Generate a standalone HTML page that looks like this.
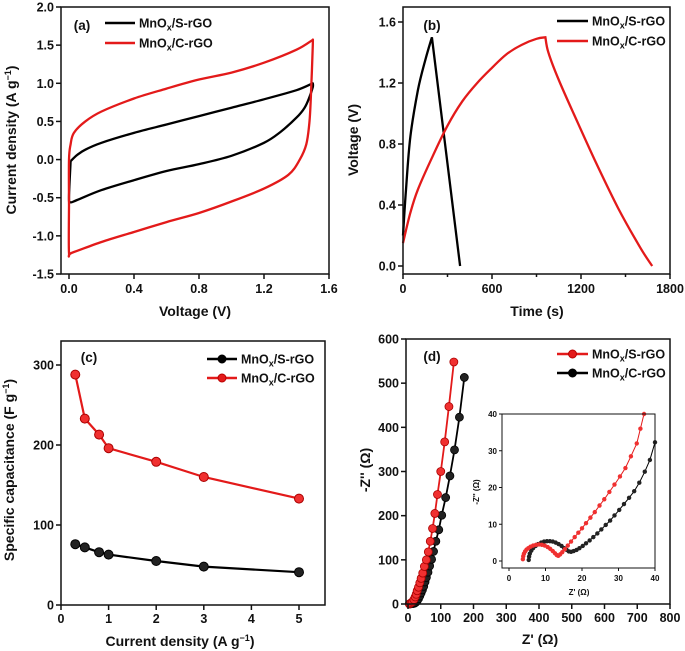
<!DOCTYPE html>
<html><head><meta charset="utf-8"><style>
html,body{margin:0;padding:0;background:#fff}
svg{display:block}
text{font-family:"Liberation Sans",Arial,sans-serif;font-weight:bold;fill:#111}
</style></head><body>
<svg id="fig" width="685" height="651" viewBox="0 0 685 651" xmlns="http://www.w3.org/2000/svg"></svg>
<script>
// ---- Panel (a) CV data ----
const cvS_V = [0.01,0.05,0.1,0.2,0.4,0.6,0.8,1.0,1.2,1.4,1.5,1.5,1.48,1.45,1.4,1.3,1.2,1.0,0.8,0.6,0.4,0.2,0.05,0.01,0.0,0.01];
const cvS_I = [-0.02,0.06,0.13,0.22,0.35,0.46,0.57,0.68,0.79,0.91,1.0,0.95,0.82,0.68,0.55,0.36,0.22,0.05,-0.06,-0.15,-0.27,-0.4,-0.53,-0.56,-0.5,-0.02];
const cvC_V = [0.0,0.0,0.01,0.03,0.1,0.2,0.4,0.6,0.8,1.0,1.2,1.4,1.5,1.5,1.49,1.48,1.46,1.42,1.35,1.2,1.0,0.8,0.6,0.4,0.2,0.02,0.0,0.0];
const cvC_I = [-0.6,0.0,0.2,0.35,0.5,0.63,0.8,0.93,1.05,1.14,1.27,1.44,1.57,1.5,0.9,0.5,0.2,0.0,-0.2,-0.38,-0.55,-0.7,-0.82,-0.95,-1.08,-1.22,-1.22,-0.6];
// ---- Panel (b) GCD data ----
const gcdS_t = [0,20,50,100,150,195,385];
const gcdS_v = [0.2,0.5,0.85,1.15,1.35,1.5,0.0];
const gcdC_t = [0,50,100,200,300,400,500,600,700,800,900,960,980,1050,1150,1300,1450,1600,1680];
const gcdC_v = [0.15,0.35,0.5,0.72,0.92,1.08,1.2,1.3,1.39,1.45,1.49,1.5,1.4,1.22,1.0,0.68,0.38,0.12,0.0];
// ---- Panel (c) rate data ----
const rateX = [0.3,0.5,0.8,1,2,3,5];
const rateS = [76,72,66,63,55,48,41];
const rateC = [288,233,213,196,179,160,133];
// ---- Panel (d) EIS data ----
const eisS_x = [4,6,10,14,18,22,25,28,32,36,40,45,50,56,62,68,75,82,90,100,112,125,140];
const eisS_y = [0,1,3,5,10,16,22,30,38,48,58,70,85,100,118,142,171,205,248,300,367,447,548];
const eisC_x = [6,10,16,20,24,28,32,36,40,44,48,52,56,61,66,72,78,85,94,103,115,128,142,157,172];
const eisC_y = [0,1,1,2,4,7,12,18,25,32,40,50,60,72,86,101,119,142,168,201,241,290,349,423,513];
const insS_x = [3.8,3.9,4.1,4.4,4.8,5.3,5.9,6.6,7.4,8.2,9.0,9.8,10.6,11.3,12.0,12.6,13.1,13.5,14.0,14.6,15.3,16.1,17.0,18.0,19.0,20.0,21.1,22.3,23.5,24.8,26.1,27.5,28.9,30.4,31.9,33.4,35.0,36.0,37.0];
const insS_y = [0.5,1.3,2.0,2.6,3.1,3.5,3.9,4.2,4.4,4.5,4.4,4.2,3.8,3.3,2.7,2.1,1.6,1.4,1.8,2.4,3.2,4.2,5.3,6.5,7.7,8.9,10.3,11.8,13.3,15.1,16.8,18.8,20.8,23.0,25.3,28.5,32.0,36.0,40.0];
const insC_x = [5.4,5.5,5.7,6.1,6.6,7.3,8.0,8.8,9.6,10.4,11.2,12.0,12.8,13.6,14.4,15.1,15.8,16.4,17.0,17.7,18.5,19.3,20.2,21.1,22.1,23.1,24.2,25.3,26.5,27.7,28.9,30.2,31.5,32.9,34.3,35.7,37.2,38.6,40];
const insC_y = [0.3,1.2,2.0,2.8,3.5,4.1,4.6,5.0,5.3,5.4,5.4,5.3,5.0,4.6,4.1,3.5,3.0,2.6,2.5,2.7,3.0,3.5,4.1,4.8,5.6,6.5,7.5,8.6,9.8,11.0,12.4,13.9,15.5,17.2,19.0,21.3,24.3,27.5,32.3];
// tick labels
const aXT = ["0.0","0.4","0.8","1.2","1.6"], aYT = ["-1.5","-1.0","-0.5","0.0","0.5","1.0","1.5","2.0"];
const bXT = ["0","600","1200","1800"], bYT = ["0.0","0.4","0.8","1.2","1.6"];
const cXT = ["0","1","2","3","4","5"], cYT = ["0","100","200","300"];
const dXT = ["0","100","200","300","400","500","600","700","800"], dYT = ["0","100","200","300","400","500","600"];
const iXT = ["0","10","20","30","40"], iYT = ["0","10","20","30","40"];

const NS="http://www.w3.org/2000/svg", fig=document.getElementById('fig');
function mk(tag,attrs,parent){const e=document.createElementNS(NS,tag);for(const k in attrs)e.setAttribute(k,attrs[k]);(parent||fig).appendChild(e);return e;}
function lin(d0,d1,r0,r1){return v=>r0+(v-d0)*(r1-r0)/(d1-d0);}
function txt(x,y,s,size,anchor,parent,rot){const t=mk('text',{x:x,y:y,'font-size':size,'text-anchor':anchor||'middle'},parent);if(rot)t.setAttribute('transform','rotate(-90 '+x+' '+y+')');t.innerHTML=s;return t;}
function path(xs,ys,sx,sy){return xs.map((v,i)=>(i?'L':'M')+sx(v).toFixed(1)+' '+sy(ys[i]).toFixed(1)).join(' ');}
// Catmull-Rom smoothed path over index range [i0,i1]
function smooth(xs,ys,sx,sy,i0,i1){
  const P=[];for(let i=i0;i<=i1;i++)P.push([sx(xs[i]),sy(ys[i])]);
  let d='M'+P[0][0].toFixed(1)+' '+P[0][1].toFixed(1);
  for(let i=0;i<P.length-1;i++){const p0=P[Math.max(0,i-1)],p1=P[i],p2=P[i+1],p3=P[Math.min(P.length-1,i+2)];
    const c1=[p1[0]+(p2[0]-p0[0])/6,p1[1]+(p2[1]-p0[1])/6],c2=[p2[0]-(p3[0]-p1[0])/6,p2[1]-(p3[1]-p1[1])/6];
    d+=' C'+c1[0].toFixed(1)+' '+c1[1].toFixed(1)+' '+c2[0].toFixed(1)+' '+c2[1].toFixed(1)+' '+p2[0].toFixed(1)+' '+p2[1].toFixed(1);}
  return d;}
function frame(g,l,t,r,b,w){const f=mk('rect',{x:l,y:t,width:r-l,height:b-t,fill:'none',stroke:'#111','stroke-width':w||1.5},g);}
function xticks(g,labs,sx,b,len,fs,dy){labs.forEach(s=>{const v=parseFloat(s),x=sx(v);mk('line',{x1:x,y1:b,x2:x,y2:b+len,stroke:'#111','stroke-width':1.5},g);const t=txt(x,b+dy,s,fs,'middle',g);});}
function yticks(g,labs,sy,l,len,fs){labs.forEach(s=>{const v=parseFloat(s),y=sy(v);mk('line',{x1:l,y1:y,x2:l-len,y2:y,stroke:'#111','stroke-width':1.5},g);const t=txt(l-len-2,y+fs*0.36,s,fs,'end',g);});}
function legendLine(g,x1,x2,y,color,label,marker){mk('line',{x1:x1,y1:y,x2:x2,y2:y,stroke:color,'stroke-width':2.5},g);if(marker)mk('circle',{cx:(x1+x2)/2,cy:y,r:4,fill:color,stroke:color==='#000'?'#000':'#b00','stroke-width':1},g);const t=txt(x2+4,y+4.5,label,12.5,'start',g);}
const S='MnO<tspan font-size="9" dy="3">x</tspan><tspan dy="-3">/S-rGO</tspan>';
const C='MnO<tspan font-size="9" dy="3">x</tspan><tspan dy="-3">/C-rGO</tspan>';

// ===== Panel (a) =====
{const g=mk('g',{});
const sx=lin(0,1.6,69,329), sy=lin(-1.5,2.0,274,7);
const d1=smooth(cvS_V,cvS_I,sx,sy,0,10)+' '+smooth(cvS_V,cvS_I,sx,sy,10,cvS_V.length-1).replace('M','L');
const p1=mk('path',{d:d1,fill:'none',stroke:'#000','stroke-width':2.3,'stroke-linejoin':'round'},g);
const d2=smooth(cvC_V,cvC_I,sx,sy,0,12)+' '+smooth(cvC_V,cvC_I,sx,sy,12,cvC_V.length-1).replace('M','L');
const p2=mk('path',{d:d2,fill:'none',stroke:'#e31a1a','stroke-width':2.3,'stroke-linejoin':'round'},g);
frame(g,61,7,329,274);xticks(g,aXT,sx,274,5,12.5,19);yticks(g,aYT,sy,61,5,12.5);
const t1=txt(195,316,'Voltage (V)',14,'middle',g);
const t2=txt(16,140,'Current density (A g<tspan font-size="9" dy="-5">−1</tspan><tspan dy="5">)</tspan>',14,'middle',g,true);
const pl=txt(82,30,'(a)',13.5,'middle',g);
legendLine(g,105,135,23,'#000',S);legendLine(g,105,135,43,'#e31a1a',C);}

// ===== Panel (b) =====
{const g=mk('g',{});
const sx=lin(0,1800,403,670), sy=lin(0,1.6,266,22);
const d1=smooth(gcdS_t,gcdS_v,sx,sy,0,5)+' '+smooth(gcdS_t,gcdS_v,sx,sy,5,6).replace('M','L');
const p1=mk('path',{d:d1,fill:'none',stroke:'#000','stroke-width':2.3},g);
const d2=smooth(gcdC_t,gcdC_v,sx,sy,0,11)+' '+smooth(gcdC_t,gcdC_v,sx,sy,11,gcdC_t.length-1).replace('M','L');
const p2=mk('path',{d:d2,fill:'none',stroke:'#e31a1a','stroke-width':2.3},g);
frame(g,403,7,670,274);xticks(g,bXT,sx,274,5,12.5,19);
[300,900,1500].forEach(v=>mk('line',{x1:sx(v),y1:274,x2:sx(v),y2:277,stroke:'#111','stroke-width':1.5},g));
yticks(g,bYT,sy,403,5,12.5);
const t1=txt(537,316,'Time (s)',14,'middle',g);
const t2=txt(358,140,'Voltage (V)',14,'middle',g,true);
const pl=txt(432,30,'(b)',13.5,'middle',g);
legendLine(g,557,588,21,'#000',S);legendLine(g,557,588,41,'#e31a1a',C);}

// ===== Panel (c) =====
{const g=mk('g',{});
const sx=lin(0,5,61,299), sy=lin(0,300,605,365);
[[rateS,'#000','#000','rate-s-rgo'],[rateC,'#e31a1a','#a00','rate-c-rgo']].forEach(([ys,col,st,nm])=>{
const p=mk('path',{d:path(rateX,ys,sx,sy),fill:'none',stroke:col,'stroke-width':2.2},g);
rateX.forEach((x,i)=>{const c=mk('circle',{cx:sx(x),cy:sy(ys[i]),r:4.5,fill:col==='#000'?'#222':'#f03030',stroke:st,'stroke-width':1},g);});});
frame(g,61,341,325,605);xticks(g,cXT,sx,605,5,12.5,18);yticks(g,cYT,sy,61,5,12.5);
const t1=txt(180,646,'Current density (A g<tspan font-size="9" dy="-5">−1</tspan><tspan dy="5">)</tspan>',14,'middle',g);
const t2=txt(14,470,'Specific capacitance (F g<tspan font-size="9" dy="-5">−1</tspan><tspan dy="5">)</tspan>',14,'middle',g,true);
const pl=txt(89,362,'(c)',13.5,'middle',g);
legendLine(g,207,237,359,'#000',S,true);legendLine(g,207,237,378,'#e31a1a',C,true);}

// ===== Panel (d) =====
{const g=mk('g',{});
const sx=lin(0,800,408,670), sy=lin(0,600,604,339);
[[eisC_x,eisC_y,'#000','eis-c-rgo'],[eisS_x,eisS_y,'#e31a1a','eis-s-rgo']].forEach(([xs,ys,col,nm])=>{
const p=mk('path',{d:path(xs,ys,sx,sy),fill:'none',stroke:col,'stroke-width':1.8},g);
xs.forEach((x,i)=>{const c=mk('circle',{cx:sx(x),cy:sy(ys[i]),r:4,fill:col==='#000'?'#222':'#f03030',stroke:col==='#000'?'#000':'#a00','stroke-width':0.8},g);});});
frame(g,406,339,670,604);xticks(g,dXT,sx,604,5,12.5,18);yticks(g,dYT,sy,406,5,12.5);
const t1=txt(540,644,"Z' (Ω)",14,'middle',g);
const t2=txt(370,470,'-Z\'\' (Ω)',14,'middle',g,true);
const pl=txt(432,361,'(d)',13.5,'middle',g);
legendLine(g,557,588,354,'#e31a1a',S,true);legendLine(g,557,588,373,'#000',C,true);
// inset
const ig=mk('g',{},g);
const ix=lin(0,40,509,655), iy=lin(0,40,561,414);
mk('rect',{x:502,y:414,width:153,height:154,fill:'#fff'},ig);
[[insC_x,insC_y,'#000','inset-c-rgo'],[insS_x,insS_y,'#e31a1a','inset-s-rgo']].forEach(([xs,ys,col,nm])=>{
const p=mk('path',{d:path(xs,ys,ix,iy),fill:'none',stroke:col,'stroke-width':1},ig);
xs.forEach((x,i)=>{const c=mk('circle',{cx:ix(x),cy:iy(ys[i]),r:2.2,fill:col==='#000'?'#222':'#f03030'},ig);});});
mk('rect',{x:502,y:414,width:153,height:154,fill:'none',stroke:'#111','stroke-width':1},ig);
iXT.forEach(s=>{const x=ix(parseFloat(s));mk('line',{x1:x,y1:568,x2:x,y2:571,stroke:'#111'},ig);const t=mk('text',{x:x,y:581,'font-size':8,'text-anchor':'middle','font-weight':'normal'},ig);t.textContent=s;});
iYT.forEach(s=>{const y=iy(parseFloat(s));mk('line',{x1:502,y1:y,x2:499,y2:y,stroke:'#111'},ig);const t=mk('text',{x:497,y:y+3,'font-size':8,'text-anchor':'end','font-weight':'normal'},ig);t.textContent=s;});
const it1=mk('text',{x:579,y:595,'font-size':8,'text-anchor':'middle','font-weight':'normal'},ig);it1.textContent="Z' (Ω)";
const it2=mk('text',{x:479,y:492,'font-size':8,'text-anchor':'middle','font-weight':'normal',transform:'rotate(-90 479 492)'},ig);it2.textContent="-Z'' (Ω)";}
</script>
</body></html>
